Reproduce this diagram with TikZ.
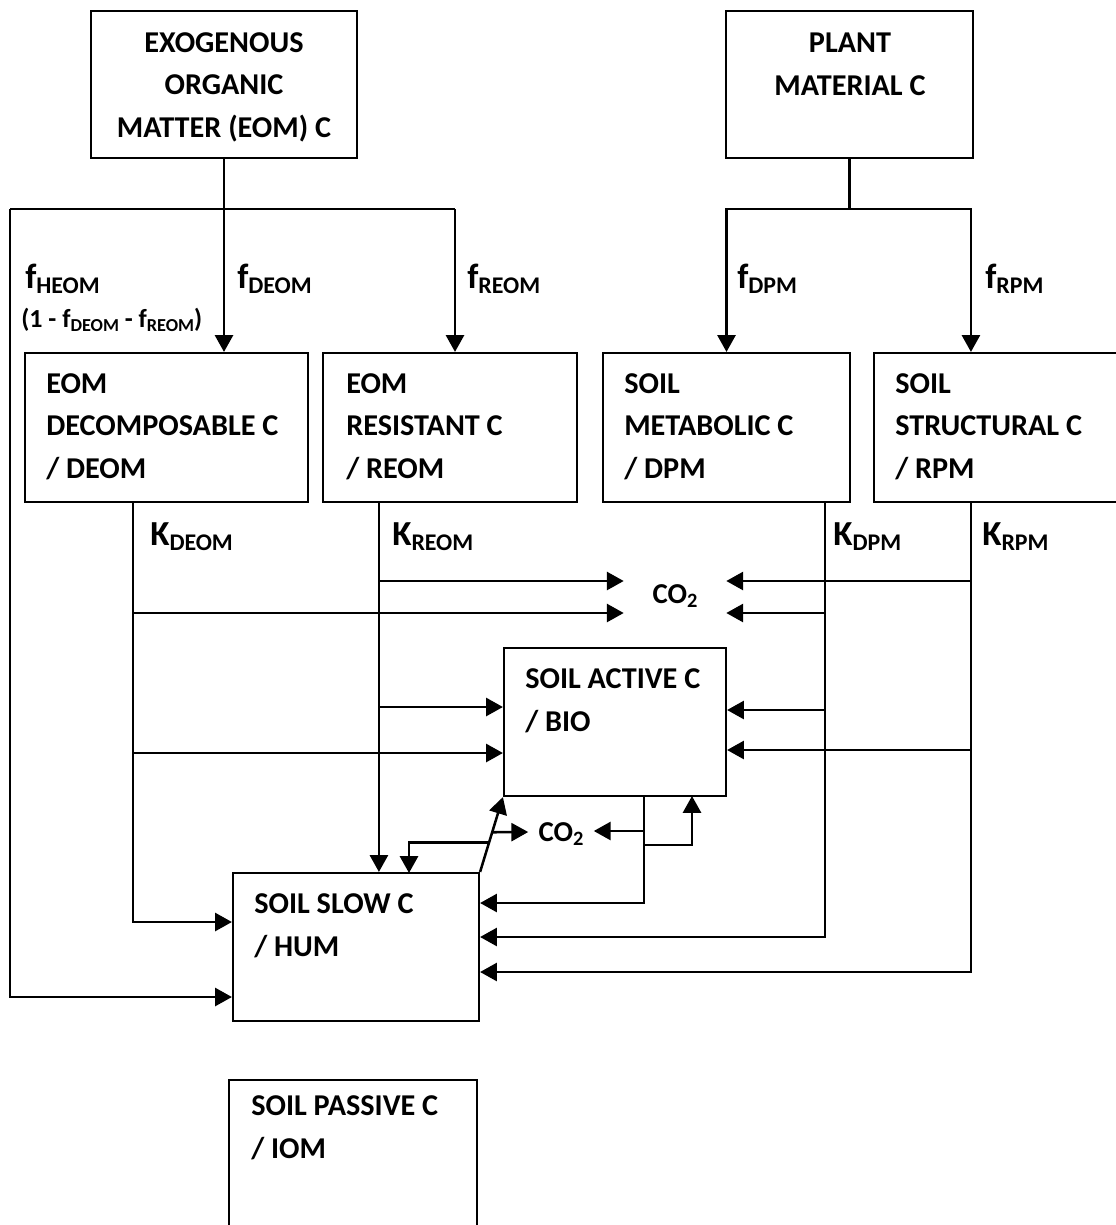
\documentclass[tikz,border=0pt]{standalone}
\usepackage{fontspec}
\setmainfont{Carlito}
\usetikzlibrary{arrows.meta,calc}

\newcommand\lsub[1]{\raisebox{-4pt}{\fontsize{17}{17}\selectfont #1}}
\newcommand\ssub[1]{\raisebox{-3pt}{\fontsize{13}{13}\selectfont #1}}
\newcommand\csub[1]{\raisebox{-3.5pt}{\fontsize{14.5}{14.5}\selectfont #1}}

\tikzset{
  pool/.style={draw,line width=1.5pt,inner sep=0pt},
  pooltext/.style={anchor=base west,inner sep=0pt,align=left,font=\fontsize{21.5}{30.2}\selectfont\bfseries},
  flow/.style={line width=1.8pt,-{Triangle[length=0.42cm,width=0.45cm]}},
  link/.style={line width=1.8pt},
  rate/.style={anchor=base west,inner sep=0pt,font=\fontsize{25}{25}\selectfont\bfseries},
  gas/.style={anchor=base,inner sep=0pt,font=\fontsize{20.5}{20.5}\selectfont\bfseries}
}

\begin{document}
\begin{tikzpicture}[x=0.025cm,y=-0.025cm]
\useasboundingbox (0,0) rectangle (1116,1225);

% inputs
\node[pool,minimum width=6.65cm,minimum height=3.675cm] (eom) at (224,84.5) {};
\node[pool,minimum width=6.175cm,minimum height=3.675cm] (plant) at (849.5,84.5) {};
\node[pooltext,anchor=base,align=center] (eomtxt) at (224,137) {EXOGENOUS\\ORGANIC\\MATTER (EOM) C};
\node[pooltext,anchor=base,align=center] (planttxt) at (850,95) {PLANT\\MATERIAL C};

% litter pools
\node[pool,minimum width=7.075cm,minimum height=3.725cm] (deom) at (166.5,427.5) {};
\node[pool,minimum width=6.35cm,minimum height=3.725cm] (reom) at (450,427.5) {};
\node[pool,minimum width=6.175cm,minimum height=3.725cm] (dpm) at (726.5,427.5) {};
\node[pool,minimum width=6.4cm,minimum height=3.725cm] (rpm) at (1002,427.5) {};
\node[pooltext] (deomtxt) at (46,478) {EOM\\DECOMPOSABLE C\\/ DEOM};
\node[pooltext] (reomtxt) at (346,478) {EOM\\RESISTANT C\\/ REOM};
\node[pooltext] (dpmtxt) at (624,478) {SOIL\\METABOLIC C\\/ DPM};
\node[pooltext] (rpmtxt) at (895,478) {SOIL\\STRUCTURAL C\\/ RPM};

% soil pools
\node[pool,minimum width=5.55cm,minimum height=3.7cm] (bio) at (615,722) {};
\node[pool,minimum width=6.15cm,minimum height=3.7cm] (hum) at (356,947) {};
\node[pool,minimum width=6.2cm,minimum height=4cm] (iom) at (353,1160) {};
\node[pooltext] (biotxt) at (525,731) {SOIL ACTIVE C\\/ BIO};
\node[pooltext] (humtxt) at (254,956) {SOIL SLOW C\\/ HUM};
\node[pooltext] (iomtxt) at (251,1158) {SOIL PASSIVE C\\/ IOM};

% CO2
\node[gas,minimum width=2.55cm] (co2a) at (675,603) {CO\csub{2}};
\node[gas,minimum width=1.625cm] (co2b) at (561,841) {CO\csub{2}};

% EOM split
\coordinate (split1) at (eom.south |- 0,209);
\coordinate (hsplit) at (10,209);
\coordinate (rsplit) at (455,209);
\draw[link] (eom.south) -- (split1);
\draw[link] (hsplit) -- (rsplit);
\draw[flow] (split1) -- (split1 |- deom.north);
\draw[flow] (rsplit) -- (rsplit |- reom.north);
\draw[flow] (hsplit) |- (hum.west |- 0,997);

% plant split
\coordinate (psplit) at (plant.south |- 0,209);
\draw[link] (plant.south) -- (psplit);
\draw[flow] (psplit) -| (dpm.north);
\draw[flow] (psplit) -| ([xshift=2.45cm]rpm.north west);

% decomposition lanes
\coordinate (kd) at ([xshift=2.725cm]deom.south west);
\coordinate (kr) at ([xshift=1.425cm]reom.south west);
\coordinate (kp) at ([xshift=-0.65cm]dpm.south east);
\coordinate (ks) at ([xshift=2.45cm]rpm.south west);
\draw[flow] (kd) |- (hum.west |- 0,922);
\draw[flow] (kr) -- (kr |- hum.north);
\draw[flow] (kp) |- (hum.east |- 0,937);
\draw[flow] (ks) |- (hum.east |- 0,972);
\draw[flow] (kr |- 0,581) -- (co2a.west |- 0,581);
\draw[flow] (kd |- 0,613) -- (co2a.west |- 0,613);
\draw[flow] (ks |- 0,581) -- (co2a.east |- 0,581);
\draw[flow] (kp |- 0,613) -- (co2a.east |- 0,613);
\draw[flow] (kr |- 0,707) -- (bio.west |- 0,707);
\draw[flow] (kd |- 0,753) -- (bio.west |- 0,753);
\draw[flow] (kp |- 0,710) -- (bio.east |- 0,710);
\draw[flow] (ks |- 0,750) -- (bio.east |- 0,750);

% BIO / HUM exchange
\coordinate (bb) at (644,796);
\coordinate (bu) at (692,796);
\coordinate (hin) at (409,873);
\draw[flow] (bb) |- (hum.east |- 0,903);
\draw[flow] (bb |- 0,831) -- (co2b.east |- 0,831);
\draw[flow] (bb |- 0,845) -| (bu);
\draw[flow] (hum.north east) -- (bio.south west);
\draw[flow] ($(hum.north east)!0.53!(bio.south west)$) -- (co2b.west |- 0,832);
\draw[flow] ($(hum.north east)!0.39!(bio.south west)$) -| (hin);

% labels
\node[rate] (fheom) at (25,288) {f\lsub{HEOM}};
\node[anchor=base west,inner sep=0pt,font=\fontsize{18.5}{18.5}\selectfont\bfseries] (fsum) at (21,327) {(1 - f\ssub{DEOM} - f\ssub{REOM})};
\node[rate] (fdeom) at (237,288) {f\lsub{DEOM}};
\node[rate] (freom) at (467,288) {f\lsub{REOM}};
\node[rate] (fdpm) at (737,288) {f\lsub{DPM}};
\node[rate] (frpm) at (985,288) {f\lsub{RPM}};
\node[rate] (kdeom) at (150,545) {K\lsub{DEOM}};
\node[rate] (kreom) at (392,545) {K\lsub{REOM}};
\node[rate] (kdpm) at (833,545) {K\lsub{DPM}};
\node[rate] (krpm) at (982,545) {K\lsub{RPM}};
\end{tikzpicture}
\end{document}
